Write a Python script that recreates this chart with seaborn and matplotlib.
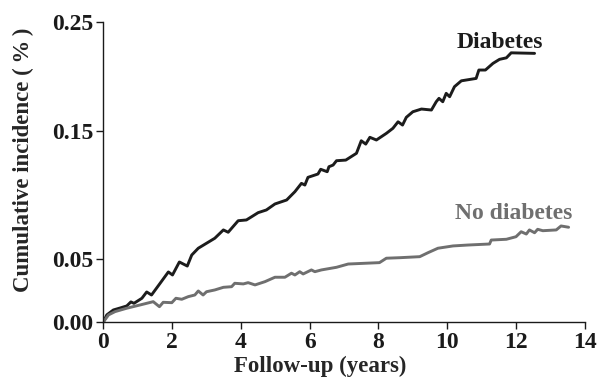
import numpy as np
import pandas as pd
import matplotlib
matplotlib.use("Agg")
import matplotlib.pyplot as plt
import seaborn as sns

# Courbes d'incidence cumulée
diab_years = [0.0, 0.10, 0.29, 0.49, 0.68, 0.80, 0.89, 1.12, 1.26, 1.40, 1.65, 1.89, 2.01,
              2.21, 2.44, 2.57, 2.76, 3.00, 3.24, 3.49, 3.63, 3.92, 4.16, 4.31, 4.50, 4.74,
              4.99, 5.33, 5.57, 5.76, 5.86, 5.95, 6.24, 6.32, 6.51, 6.56, 6.68, 6.78, 7.05,
              7.36, 7.50, 7.63, 7.75, 7.94, 8.23, 8.42, 8.57, 8.70, 8.81, 9.00, 9.25, 9.54,
              9.68, 9.76, 9.87, 9.97, 10.07, 10.21, 10.41, 10.84, 10.92, 11.11, 11.33,
              11.52, 11.72, 11.86, 12.54]
diab_inc = [0.0, 0.0056, 0.0095, 0.0111, 0.0127, 0.0159, 0.0148, 0.0188, 0.0238, 0.0214,
            0.0307, 0.0397, 0.0373, 0.0476, 0.0444, 0.0531, 0.0584, 0.0623, 0.0662, 0.0727,
            0.0709, 0.0799, 0.0805, 0.0830, 0.0862, 0.0883, 0.0930, 0.0961, 0.1026, 0.1091,
            0.1078, 0.1138, 0.1164, 0.1201, 0.1182, 0.1221, 0.1234, 0.1268, 0.1273, 0.1326,
            0.1424, 0.1398, 0.1451, 0.1430, 0.1482, 0.1525, 0.1585, 0.1555, 0.1626, 0.1677,
            0.1702, 0.1693, 0.1769, 0.1800, 0.1769, 0.1846, 0.1815, 0.1907, 0.1961, 0.1983,
            0.2060, 0.2060, 0.2121, 0.2158, 0.2172, 0.2218, 0.2213]

nodiab_years = [0.0, 0.15, 0.34, 0.68, 1.07, 1.45, 1.63, 1.74, 1.99, 2.11, 2.28, 2.47, 2.66,
                2.76, 2.90, 3.00, 3.24, 3.49, 3.73, 3.82, 4.07, 4.21, 4.41, 4.70, 4.99, 5.28,
                5.47, 5.57, 5.71, 5.81, 6.05, 6.15, 6.34, 6.78, 7.12, 8.03, 8.23, 8.62, 9.20,
                9.44, 9.73, 10.17, 10.60, 11.23, 11.28, 11.72, 12.00, 12.15, 12.30, 12.39,
                12.54, 12.63, 12.78, 13.17, 13.31, 13.53]
nodiab_inc = [0.0, 0.0056, 0.0082, 0.0109, 0.0135, 0.0161, 0.0121, 0.0156, 0.0153, 0.0188,
              0.0180, 0.0201, 0.0214, 0.0246, 0.0214, 0.0240, 0.0254, 0.0275, 0.0280, 0.0307,
              0.0302, 0.0312, 0.0294, 0.0320, 0.0355, 0.0355, 0.0387, 0.0373, 0.0399, 0.0381,
              0.0413, 0.0399, 0.0413, 0.0434, 0.0460, 0.0471, 0.0506, 0.0510, 0.0518, 0.0549,
              0.0584, 0.0602, 0.0609, 0.0617, 0.0648, 0.0654, 0.0674, 0.0713, 0.0695, 0.0727,
              0.0705, 0.0732, 0.0721, 0.0727, 0.0758, 0.0748]

x_ticks = [0, 2, 4, 6, 8, 10, 12, 14]
y_ticks = [0.0, 0.05, 0.15, 0.25]
y_tick_labels = ["0.00", "0.05", "0.15", "0.25"]

# l'axe y d'origine n'est pas linéaire : on garde l'écart entre les graduations
y_scale_pos = [0, 63, 191, 300]

sns.set_theme(style="ticks")
plt.rcParams['font.family'] = ['Liberation Serif', 'DejaVu Serif']
plt.rcParams['font.weight'] = 'bold'

df_d = pd.DataFrame({'years': diab_years, 'inc': diab_inc})
df_n = pd.DataFrame({'years': nodiab_years, 'inc': nodiab_inc})

fig = plt.figure(figsize=(6.01, 3.81), dpi=100)
ax = fig.add_axes([0.172, 0.155, 0.801, 0.787])

ax.set_yscale('function', functions=(lambda v: np.interp(v, y_ticks, y_scale_pos),
                                     lambda p: np.interp(p, y_scale_pos, y_ticks)))

sns.lineplot(data=df_d, x='years', y='inc', ax=ax, color='#1c1c1c', lw=2.1,
             sort=False, estimator=None)
sns.lineplot(data=df_n, x='years', y='inc', ax=ax, color='#6f6f6f', lw=2.1,
             sort=False, estimator=None)

ax.set_xlim(0, 14)
ax.set_ylim(0, 0.25)
ax.set_xticks(x_ticks)
ax.set_yticks(y_ticks)
ax.set_yticklabels(y_tick_labels)
ax.tick_params(axis='both', direction='out', length=5, width=1, labelsize=17, pad=2, colors='#1a1a1a')
ax.minorticks_off()

ax.text(11.52, 0.2317, 'Diabetes', ha='center', va='center', fontsize=17,
        fontweight='bold', color='#1c1c1c')
ax.text(11.93, 0.0859, 'No diabetes', ha='center', va='center', fontsize=17,
        fontweight='bold', color='#6f6f6f')

ax.set_xlabel('Follow-up (years)', fontsize=16.5, fontweight='bold')
ax.set_ylabel('Cumulative incidence (\u2009%\u2009)', fontsize=16.5, fontweight='bold')
ax.xaxis.set_label_coords(0.451, -0.112)
ax.yaxis.set_label_coords(-0.145, 0.54)

for s in ['top', 'right']:
    ax.spines[s].set_visible(False)
for s in ['left', 'bottom']:
    ax.spines[s].set_color('#1a1a1a')
    ax.spines[s].set_linewidth(1)

fig.savefig('out.png', dpi=100)
